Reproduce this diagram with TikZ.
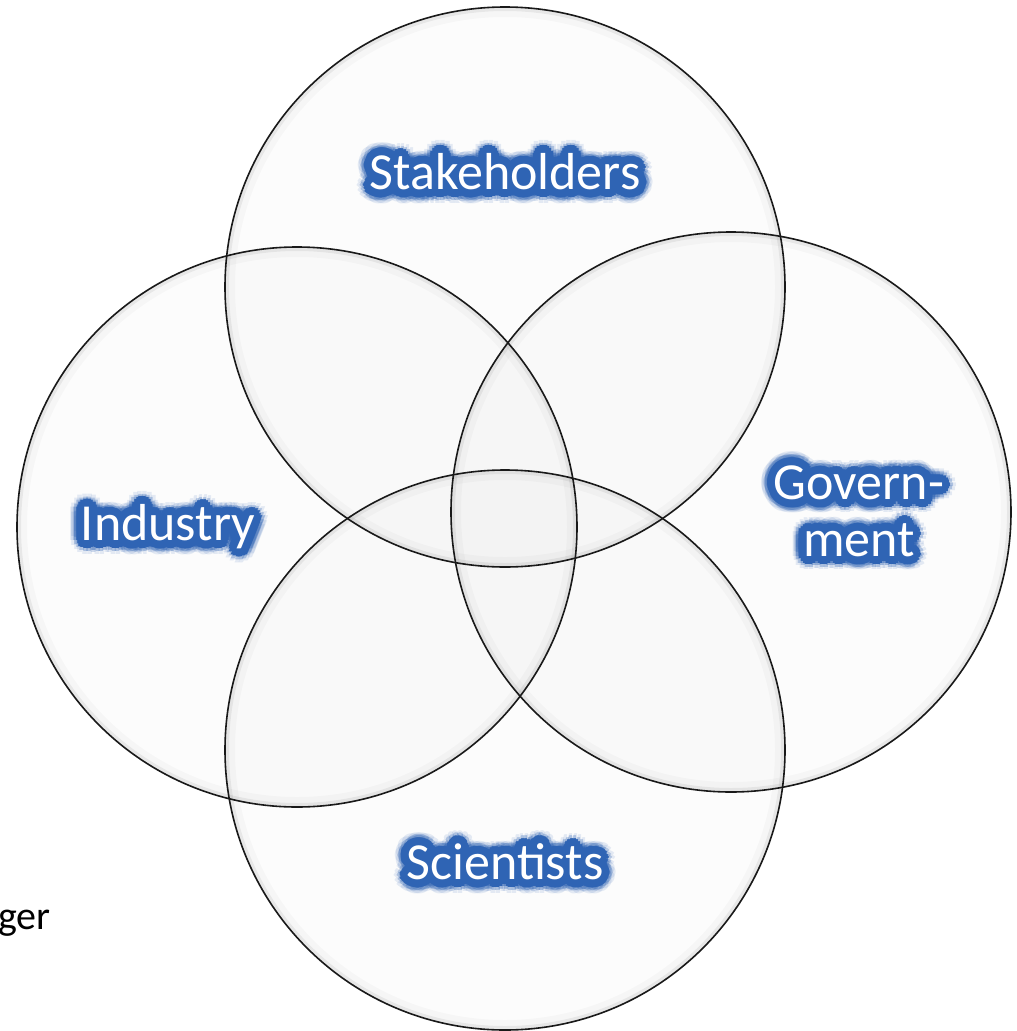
\documentclass[tikz,border=0pt]{standalone}
\usepackage{fontspec}
\setmainfont{Carlito}
\definecolor{glowblue}{RGB}{47,100,180}
\begin{document}
\begin{tikzpicture}[x=1pt,y=-1pt,
  ring/.style={draw=black!90,line width=1.6pt},
  disc/.style={fill=black,fill opacity=0.01},
  lbl/.style={font=\fontsize{52}{57}\selectfont,align=center,inner sep=0pt},
  side/.style={font=\fontsize{40}{42}\selectfont,inner sep=0pt,text=black}]
\useasboundingbox (0,0) rectangle (1017,1031);
\fill[white] (0,0) rectangle (1017,1031);

% circle centres
\coordinate (cTop) at (505,287);
\coordinate (cLeft) at (297,527);
\coordinate (cRight) at (731,512);
\coordinate (cBot) at (505,750);

% translucent fills with a soft inner edge
\foreach \c in {cTop,cLeft,cRight,cBot}{
  \fill[disc] (\c) circle (280);
  \draw[black,opacity=0.025,line width=10pt] (\c) circle (275);
  \draw[black,opacity=0.06,line width=4pt] (\c) circle (278);
}
% outlines
\foreach \c in {cTop,cLeft,cRight,cBot}{
  \draw[ring] (\c) circle (280);
}

% glowing labels: blue halo built from offset copies, white text on top
\newcommand\glowlabel[3]{%
  \foreach \r/\o in {14/0.12,11/0.3,8/1,5/1,2.5/1}{%
    \foreach \a in {0,20,...,340}{%
      \node[lbl,text=glowblue,text opacity=\o] at ([shift={(\a:\r)}]#2) {#3};
    }%
  }%
  \node[lbl,text=white] (#1) at (#2) {#3};%
}
\glowlabel{stake}{505,172}{Stakeholders}
\glowlabel{ind}{168,527}{Industry}
\glowlabel{gov}{859,511}{Govern-\\ment}
\glowlabel{sci}{505,862}{Scientists}

\node[side,anchor=base east] (ger) at (51,929) {ger};
\end{tikzpicture}
\end{document}
